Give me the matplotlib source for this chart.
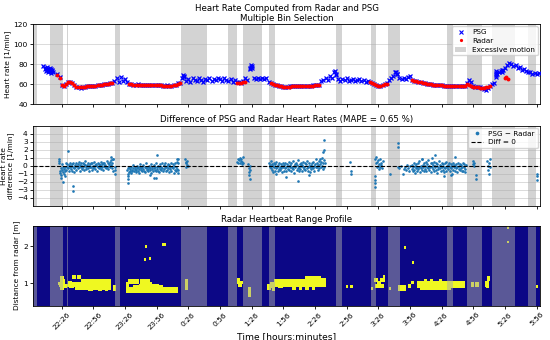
import numpy as np
import matplotlib
matplotlib.use("Agg")
import matplotlib.pyplot as plt
from matplotlib.patches import Patch
from matplotlib.lines import Line2D

# ---------------- data (time = minutes after 22:00) ----------------
tick_minutes = [26, 56, 86, 116, 146, 176, 206, 236, 266, 296, 326, 356, 386, 416, 446, 476]
tick_labels = ["22:26", "22:56", "23:26", "23:56", "0:26", "0:56", "1:26", "1:56",
               "2:26", "2:56", "3:26", "3:56", "4:26", "4:56", "5:26", "5:56"]

motion_start = [-1, 15, 30.7, 76.5, 139, 184, 198, 222.7, 286, 319, 335.5, 391, 410, 434, 468]
motion_end = [3, 27, 32.3, 81, 164, 192, 215.5, 228, 292, 323.5, 346.5, 396.5, 424.5, 455.5, 475.5]

# PSG heart rate, sampled every 2 min from minute 22
psg_t0 = 22
psg_step = 2
psg_hr = [70, 67, 59, 58, 60, 62, 62.5, 61, 59, 57, 57, 56.5, 57, 57.5, 58, 58, 58, 58.5, 58.5, 59, 59, 59.5, 60, 60, 60.5, 61, 61.5,
          63, 66, 62, 67, 63, 65, 62,
          60, 60, 59.5, 59.5, 60, 59.5, 59.5, 59, 59.5, 59.5, 59, 59, 59, 59.5, 59, 59, 58.5, 58.5, 59, 58.5, 58.5, 59, 59.5, 61, 61,
          66, 68, 63, 65, 62, 66, 64, 63, 66, 64, 62, 65, 64, 66, 63, 65, 64, 66, 65, 63, 66, 64, 63, 65, 62, 64, 62, 62, 61, 63, 66,
          64, 76, 78, 66, 65, 66, 65, 66, 65, 66, 62,
          61, 60, 59.5, 59, 58.5, 58, 57.5, 57.5, 57.5, 58, 58, 58, 58, 58, 58.5, 58, 58, 58.5, 58.5, 58.5, 59, 59, 59, 59.5,
          63, 64, 66, 64, 68, 66, 72, 69, 65, 63, 65, 64, 66, 63, 64, 65, 63, 64, 65, 63, 64, 62, 63, 62,
          61, 60, 59, 58.5, 58, 59, 60, 61,
          64, 66, 68, 72, 70, 66, 65, 66, 65, 67, 68,
          64, 63.5, 63, 62.5, 62, 61.5, 61, 60.5, 60, 60, 59.5, 59.5, 59, 59, 59, 58.5, 58.5, 58.5, 58.5, 58, 58, 58, 58, 58, 58.5, 58.5,
          61, 64, 62, 58, 57.5, 57, 57, 56.5, 55, 54, 56, 58, 60, 61,
          70, 72, 73, 74, 76, 79, 81, 80, 78, 79, 76, 77, 74, 75, 73, 72, 72, 70, 71, 70, 71]
psg_extra_t = [8.3, 10.5, 11, 11.5, 12, 12.5, 13, 13.5, 14, 14.5, 15, 15.5, 16, 16.5, 17, 17.5,
               204.5, 205, 205.5, 206, 437.5, 437.5, 437.5, 437.5, 443, 443, 141, 141.5, 285, 285.5, 343, 343.5]
psg_extra_hr = [78, 75, 73, 76, 74, 77, 72, 75, 73, 76, 74, 71, 75, 73, 74, 72,
                75, 79, 77, 76, 67, 69, 71, 73, 72, 74, 69, 67, 73, 70, 72, 70]

# Radar heart rate segments (start minute, values every 2 min)
radar_segments = [
    (22, [69.5, 66, 59, 58, 60, 62.5, 62.5, 61.5, 59, 57, 57, 57, 57, 57.5, 58, 58, 58, 58.5, 58.5, 59, 59, 59.5, 60, 60, 60.5, 61, 61.5]),
    (90, [60, 60, 59.5, 59.5, 59.5, 59.5, 59.5, 59, 59.5, 59.5, 59, 59, 59, 59, 59, 59, 58.5, 58.5, 58.5, 58.5, 58.5, 59, 59, 60.5, 61]),
    (192, [61.5, 61, 61.5, 62, 62]),
    (224, [61, 60, 59.5, 59, 58.5, 58, 57.5, 57.5, 57.5, 57.5, 58, 58, 58, 58, 58, 58, 58, 58.5, 58.5, 58.5, 58.5, 59, 59, 59]),
    (318, [62, 61, 60, 59, 58.5, 58, 59, 60, 60.5]),
    (358, [64, 63.5, 63, 62.5, 62, 61.5, 61, 60.5, 60, 60, 59.5, 59.5, 59, 59, 59, 58.5, 58.5, 58.5, 58.5, 58, 58, 58, 58, 58, 58, 58,
           60, 59, 58, 57.5, 57, 57, 56.5, 56, 56.5, 57, 57.5, 58]),
]
radar_extra_t = [446, 447, 448.5]
radar_extra_hr = [66, 67.5, 65]

# Difference PSG - Radar, dense segments (start minute, values every 0.5 min)
diff_segments = [
    (24, [-0.6, -0.9, -0.3, -1.2, -0.5, 0.2, -0.8, -0.1, -0.4, -1.0,
          -0.6, -0.2, 0.3, -0.5, -0.1, 0.2, -0.3, -0.7, 0.1, -0.2,
          0.4, -0.4, 0.0, -0.6, 0.2, -0.1, 0.3, -0.3, -0.8, 0.1,
          -0.2, 0.4, -0.5, 0.0, 0.2, -0.3, 0.5, -0.1, -0.6, 0.1,
          0.3, -0.2, 0.0, -0.4, 0.4, -0.1, 0.2, -0.5, 0.1, 0.6,
          -0.2, -0.4, 0.1, -0.3, 0.3, -0.6, 0.0, 0.2, -0.2, 0.4,
          -0.1, -0.5, 0.3, 0.0, -0.3, 0.5, -0.2, 0.1, -0.4, 0.2,
          0.0, -0.6, 0.4, -0.1, 0.2, -0.3, 0.1, -0.2, 0.5, -0.4,
          0.2, -0.1, 0.3, -0.5, 0.0, 0.4, -0.2, 0.1, -0.3, 0.6,
          -0.1, 0.3, -0.4, 0.2, 0.0, 0.5, -0.2, 0.7, 0.1, -0.3,
          0.4, -0.6, 0.8]),
    (88, [-0.5, -1.0, -0.3, -0.8, -0.2, -0.6, -0.4, -0.9, -0.1, -0.5,
          -0.7, -0.3, 0.1, -0.6, -0.4, -0.2, -0.8, -0.5, 0.0, -0.3,
          -0.6, -0.1, -0.4, -0.9, -0.2, 0.2, -0.5, -0.3, -0.7, -0.1,
          -0.4, 0.1, -0.6, -0.2, -0.8, -0.3, 0.3, -0.5, -0.1, -0.4,
          -0.7, -0.2, 0.0, -0.5, -0.3, -0.9, 0.2, -0.4, -0.1, -0.6,
          -0.3, 0.1, -0.5, -0.2, -0.7, 0.3, -0.4, -0.1, -0.6, 0.0,
          -0.2, -0.8, 0.2, -0.4, -0.1, -0.5, 0.4, -0.3, -0.6, 0.1,
          -0.4, -0.2, 0.3, -0.7, -0.1, 0.0, -0.5, 0.2, -0.3, -0.8,
          0.1, -0.4, -0.2, 0.4, -0.6, -0.1, 0.2, -0.3, -0.9, 0.0,
          -0.5, 0.3, -0.2, -0.7, 0.5, -0.4, 0.8]),
    (222.5, [0.4, 0.1, -0.2, 0.6, -0.3, 0.2, -0.5, 0.0, -0.8, 0.3,
             -0.1, -0.6, 0.2, -0.3, 0.5, -0.2, -0.7, 0.1, -0.4, 0.3,
             -0.1, -0.5, 0.2, -0.3, 0.0, -0.8, 0.4, -0.2, -0.6, 0.1,
             -0.3, 0.3, -0.1, -0.7, 0.2, -0.4, 0.0, 0.5, -0.5, -0.2,
             0.1, -0.6, 0.3, -0.3, -0.1, 0.6, -0.4, 0.0, -0.9, 0.2,
             -0.2, 0.4, -0.5, 0.1, -0.3, 0.7, -0.1, -0.6, 0.2, -0.4,
             0.0, 0.3, -0.7, 0.1, -0.2, 0.5, -0.4, -0.1, 0.3, -0.5,
             0.2, -0.3, 0.6, -0.1, -0.6, 0.0, 0.4, -0.2, -0.8, 0.1,
             -0.4, 0.3, -0.1, 0.5, -0.3, 0.0, -0.6, 0.2, -0.2, 0.8,
             -0.1, 0.4, -0.5, 0.1, 0.6, -0.3, 0.2, 0.9, -0.2, 0.5,
             0.0, 1.0, 0.3, -0.4, 0.7, -0.1, 0.4]),
    (357.5, [-0.4, 0.1, -0.7, -0.2, 0.3, -0.5, 0.0, -0.9, -0.3, 0.2,
             -0.6, -0.1, 0.4, -0.4, -0.2, 0.6, -0.8, 0.0, -0.3, 0.9,
             -0.5, 0.1, -0.2, -0.7, 0.3, -0.4, 0.0, 0.5, -0.6, -0.1,
             0.2, -0.3, 0.7, -0.5, 0.0, -0.2, 0.4, -0.8, -0.1, 0.3,
             -0.4, 0.1, -0.6, 0.5, -0.2, 0.0, -0.5, 0.3, -0.9, 0.2,
             -0.1, -0.4, 0.6, -0.3, 0.1, -0.7, 0.0, 0.4, -0.2, -0.5,
             0.2, -0.1, -0.8, 0.3, -0.3, 0.5, -0.6, 0.0, -0.2, 0.1,
             -0.4, 0.4, -0.1, -0.7, 0.2, -0.3, 0.0, -1.0, 0.3, -0.5,
             -0.2, 0.1, -0.6, 0.0, -0.3, 0.2, -0.8, -0.1, 0.4, -0.4,
             0.0, -0.5, 0.2, -0.3, 0.1, -0.6, -0.2, 0.3, -0.7, -0.1,
             0.2, -0.4, -0.8, 0.1]),
]
diff_extra_t = [23, 23.3, 23.6, 27, 32.3, 37, 37, 73, 75, 76.5, 76.5, 76.7, 25, 29,
                88.5, 88.7, 88.9, 116, 113, 115, 110, 135.5, 136, 136.3, 136.5,
                143, 143.4, 143.8, 144.2, 144.6, 145, 145.4,
                192.5, 193, 193.5, 194, 194.5, 195, 195.5, 196, 196.5, 197, 197.5, 198,
                203, 203.3, 203.6, 203.9, 204.2, 204.5, 204.8,
                274.6, 274.3, 274.0, 250, 239, 229, 260,
                299, 300, 300.3,
                323, 323.5, 324, 324.5, 325, 325.5, 326, 326.5, 327, 327.5, 328, 328.5, 329, 329.5, 330,
                322.8, 322.8, 322.8, 322.8,
                337, 344.9, 344.9, 345, 346, 347.5, 349, 350, 351, 352, 353, 354, 355, 356,
                367, 377, 395, 380, 388, 399,
                415.6, 416, 416.4, 416.8, 419, 419,
                429, 429.5, 430, 430.5, 431, 431.5, 432,
                476, 476, 476]
diff_extra_v = [0.9, 0.6, 0.3, -2.0, 1.8, -2.5, -3.1, 1.1, 0.8, -0.5, -1.0, -0.2, -1.5, -1.3,
                -1.3, -1.7, -2.2, 1.4, -1.5, -1.5, -1.2, 0.8, 0.4, -0.9, -0.5,
                0.8, 0.3, -0.2, 0.5, 0.1, 0.6, 0.0,
                0.5, 0.9, 0.3, 0.7, 1.0, 0.4, 0.6, 0.8, 0.2, 0.5, 1.1, 0.3,
                0.2, -0.3, -0.8, -1.2, -1.6, 0.0, -0.5,
                3.2, 2.0, 1.7, -1.9, -1.4, -1.0, -1.2,
                0.45, -0.6, -1.0,
                0.8, 0.3, 1.1, -0.2, 0.5, 0.0, 0.7, -0.4, 0.2, 0.9, -0.1, 0.4, 0.1, -0.3, 0.6,
                -1.3, -1.8, -2.2, -2.6,
                -1.0, 2.9, 2.4, -0.1, -0.3, 0.0, -1.0, -0.4, -0.2, -0.5, 0.1, -0.3, -0.6, 0.0,
                0.9, 1.0, -1.2, 1.3, -1.3, 1.1,
                0.6, 0.2, 0.0, 0.4, -1.2, -1.6,
                0.6, 0.0, -0.5, 0.3, -1.0, 0.8, -0.2,
                -1.0, -1.3, -1.8]

# Radar range profile: detected heartbeat bins (t0, t1, d0, d1)
heartbeat_blobs = [
    (24.5, 26, 0.93, 1.0), (25.5, 27.5, 1.05, 1.17), (27, 29, 0.95, 1.08), (28, 30.5, 0.88, 0.98),
    (26, 28, 0.86, 0.92), (23.5, 24.5, 0.98, 1.02),
    (37, 40, 1.14, 1.2), (41.5, 44, 1.14, 1.2),
    (33, 36, 0.98, 1.05), (36, 40, 0.92, 1.0), (34, 38, 0.88, 0.94), (30.5, 33, 0.92, 0.98),
    (40, 46, 0.85, 1.02), (45, 73, 0.86, 1.08), (56, 73, 1.06, 1.11), (52, 56, 0.80, 0.87),
    (62, 64, 0.80, 0.86), (68, 70, 0.81, 0.86), (76, 77.5, 0.82, 0.92),
    (88, 90, 0.85, 1.0), (90, 99, 1.02, 1.08), (101, 110, 1.03, 1.1), (104, 112, 0.98, 1.03),
    (100, 118, 0.9, 0.98), (112, 122, 0.88, 0.94), (88, 136, 0.79, 0.88), (95, 100, 0.88, 0.92),
    (106, 107, 1.98, 2.02), (122, 124.5, 2.0, 2.04), (105, 106, 1.6, 1.64), (109.5, 110.5, 1.64, 1.68),
    (143.8, 145.2, 0.85, 1.1),
    (192.5, 195, 1.02, 1.15), (194, 197, 0.93, 1.02), (196, 198, 1.0, 1.06),
    (203.5, 204.8, 0.66, 0.9),
    (222, 224, 0.86, 0.96), (224, 227, 0.9, 1.02), (226, 228, 0.82, 0.88),
    (228, 276, 0.95, 1.08), (238, 262, 1.05, 1.1), (258, 272, 1.08, 1.18), (272, 276, 1.0, 1.12),
    (245, 248, 0.85, 0.92), (252, 254, 0.86, 0.9), (258, 260, 0.85, 0.9), (264, 266, 0.85, 0.9),
    (232, 236, 0.88, 0.95),
    (295.5, 297, 0.9, 0.95), (300, 302, 0.88, 0.95),
    (323, 326, 1.05, 1.15), (326, 329, 0.95, 1.05), (329, 332, 1.05, 1.12), (323.5, 331, 0.9, 0.97),
    (331, 332, 1.18, 1.22), (319.5, 320.5, 0.86, 0.9), (336.5, 337.5, 0.86, 0.9),
    (345.5, 352, 0.8, 0.92), (355, 357, 0.9, 0.96), (358, 360, 1.0, 1.06),
    (351, 352, 1.94, 1.98), (358.5, 359.5, 1.53, 1.57),
    (364, 408, 0.88, 1.04), (366, 395, 0.85, 0.9), (370, 372, 1.04, 1.08), (376, 378, 1.04, 1.08),
    (384, 386, 1.04, 1.08),
    (415, 416.5, 0.93, 1.0), (419, 420.5, 0.93, 1.0),
    (427.5, 430.5, 0.95, 1.05), (430, 431.5, 1.08, 1.18), (429, 431, 0.88, 0.93),
    (448.5, 449.5, 2.1, 2.14), (448.5, 449.5, 2.5, 2.55), (475.5, 476.5, 0.88, 0.92),
]

# ---------------- figure ----------------
XMIN, XMAX = -0.9, 479.2
SPAN_COLOR = "#a9a9a9"
SPAN_ALPHA = 0.5
FS_TITLE, FS_TICK, FS_LABEL, FS_LEG = 6.2, 5.4, 5.3, 5.2

fig = plt.figure(figsize=(5.5, 3.4), dpi=100)
left, width, height = 33.3 / 550, 506.7 / 550, 80 / 340
ax1 = fig.add_axes([left, 1 - 104.3 / 340, width, height])
ax2 = fig.add_axes([left, 1 - 205.7 / 340, width, height])
ax3 = fig.add_axes([left, 1 - 305.7 / 340, width, height])

for ax in (ax1, ax2, ax3):
    ax.set_xlim(XMIN, XMAX)
    ax.set_xticks(tick_minutes)
    ax.tick_params(labelsize=FS_TICK, length=2.5, width=0.6, pad=1.5)
    for s in ax.spines.values():
        s.set_linewidth(0.6)
ax1.set_xticklabels([])
ax2.set_xticklabels([])

# --- panel 1
ax1.set_axisbelow(True)
ax1.grid(axis="y", color="#d4d4d4", lw=0.6)
for a, b in zip(motion_start, motion_end):
    ax1.axvspan(a, b, color=SPAN_COLOR, alpha=SPAN_ALPHA, lw=0, zorder=1)
psg_t = psg_t0 + psg_step * np.arange(len(psg_hr))
ax1.plot(psg_t, psg_hr, "x", color="blue", ms=3.2, mew=0.9, zorder=3)
ax1.plot(psg_extra_t, psg_extra_hr, "x", color="blue", ms=3.2, mew=0.9, zorder=3)
for start, vals in radar_segments:
    rt = start + 2 * np.arange(len(vals))
    ax1.plot(rt, vals, "o", color="red", ms=2.8, mew=0, zorder=4)
ax1.plot(radar_extra_t, radar_extra_hr, "o", color="red", ms=2.8, mew=0, zorder=4)
ax1.set_ylim(40, 120)
ax1.set_yticks([40, 60, 80, 100, 120])
ax1.set_ylabel("Heart rate [1/min]", fontsize=FS_LABEL, labelpad=2)
ax1.set_title("Heart Rate Computed from Radar and PSG\nMultiple Bin Selection",
              fontsize=FS_TITLE, pad=2.5, linespacing=1.1)
h1 = [Line2D([], [], marker="x", color="blue", ls="none", ms=2.6, mew=0.8),
      Line2D([], [], marker="o", color="red", ls="none", ms=2.3, mew=0),
      Patch(facecolor=SPAN_COLOR, alpha=SPAN_ALPHA, lw=0)]
ax1.legend(h1, ["PSG", "Radar", "Excessive motion"], loc="upper right", fontsize=FS_LEG,
           borderaxespad=0.3, handlelength=1.6, labelspacing=0.35, borderpad=0.4)

# --- panel 2
ax2.set_axisbelow(True)
ax2.grid(axis="y", color="#d4d4d4", lw=0.6)
for a, b in zip(motion_start, motion_end):
    ax2.axvspan(a, b, color=SPAN_COLOR, alpha=SPAN_ALPHA, lw=0, zorder=1)
first = True
for start, vals in diff_segments:
    dt = start + 0.5 * np.arange(len(vals))
    ax2.plot(dt, vals, "o", color="#1f77b4", ms=1.9, mew=0, zorder=3,
             label="PSG \u2212 Radar" if first else None)
    first = False
ax2.plot(diff_extra_t, diff_extra_v, "o", color="#1f77b4", ms=1.9, mew=0, zorder=3)
ax2.axhline(0, color="black", ls="--", lw=0.8, zorder=4, label="Diff = 0")
ax2.set_ylim(-5, 5)
ax2.set_yticks(range(-4, 5))
ax2.set_ylabel("Heart rate\ndifference [1/min]", fontsize=FS_LABEL, labelpad=2, linespacing=1.0)
ax2.set_title("Difference of PSG and Radar Heart Rates (MAPE = 0.65 %)", fontsize=FS_TITLE, pad=2.5)
ax2.legend(loc="upper right", fontsize=FS_LEG, borderaxespad=0.3, handlelength=1.6,
           labelspacing=0.35, borderpad=0.4, markerscale=1.4)

# --- panel 3
D0, D1 = 0.4, 2.55
t_edges = np.arange(XMIN, XMAX + 1.0, 1.0)
d_edges = np.arange(D0, D1 + 0.04, 0.04)
img = np.zeros((len(d_edges) - 1, len(t_edges) - 1))
for t0, t1, d0, d1 in heartbeat_blobs:
    cols = (t_edges[:-1] < t1) & (t_edges[1:] > t0)
    rows = (d_edges[:-1] < d1) & (d_edges[1:] > d0)
    img[np.ix_(rows, cols)] = 1
ax3.imshow(img, origin="lower", aspect="auto", cmap="plasma", vmin=0, vmax=1,
           extent=[t_edges[0], t_edges[-1], d_edges[0], d_edges[-1]], interpolation="nearest", zorder=0)
for a, b in zip(motion_start, motion_end):
    ax3.axvspan(a, b, color=SPAN_COLOR, alpha=SPAN_ALPHA, lw=0, zorder=2)
ax3.set_xlim(XMIN, XMAX)
ax3.set_ylim(D0, D1)
ax3.set_yticks([1, 2])
ax3.set_xticklabels(tick_labels, rotation=45, fontsize=FS_TICK)
ax3.set_ylabel("Distance from radar [m]", fontsize=FS_LABEL, labelpad=2)
ax3.set_xlabel("Time [hours:minutes]", fontsize=6.6, labelpad=1)
ax3.set_title("Radar Heartbeat Range Profile", fontsize=FS_TITLE, pad=2.5)

fig.savefig("out.png", dpi=100)
